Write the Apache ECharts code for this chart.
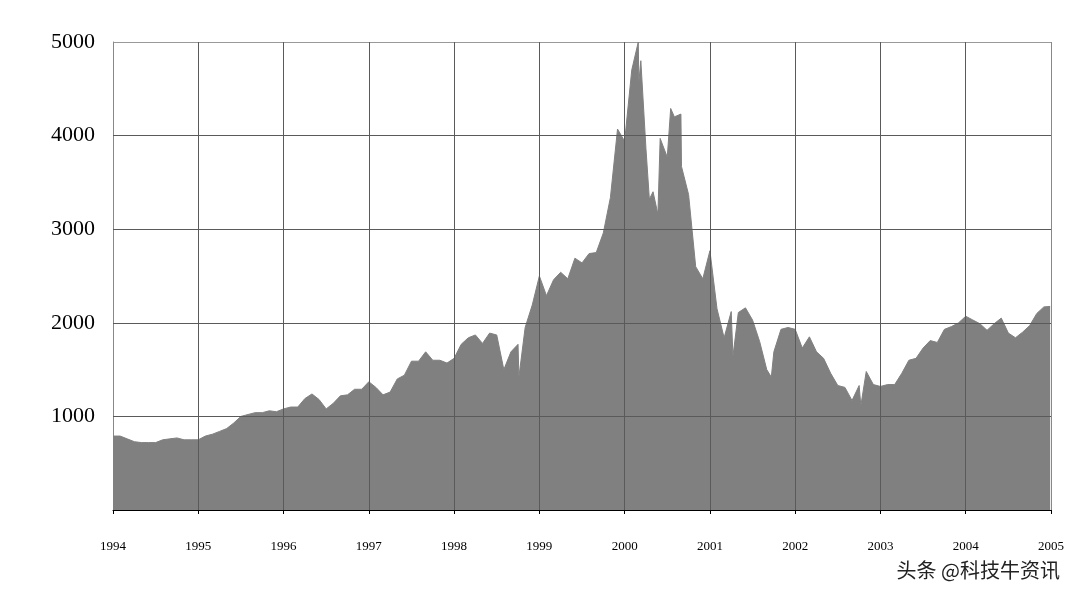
<!DOCTYPE html>
<html><head><meta charset="utf-8">
<script src="https://cdn.jsdelivr.net/npm/echarts@6/dist/echarts.min.js"></script>
<style>html,body{margin:0;background:#fff}#c{width:1080px;height:605px}</style>
</head><body><div id="c"></div>
<script>
const startYear = 1994;
const monthly = [
 [790,790,760,730,720,720,720,750,760,770,750,750],
 [750,790,810,840,870,930,1000,1020,1040,1040,1060,1050],
 [1080,1100,1100,1190,1240,1180,1080,1140,1220,1230,1290,1290],
 [1370,1310,1230,1260,1400,1440,1590,1590,1690,1600,1600,1570],
 [1620,1770,1840,1870,1780,1890,1870,1500,1690,1770,1950,2190],
 [2500,2290,2460,2540,2470,2690,2640,2740,2750,2960,3340,4070],
 [3940,4700,4570,3860,3400,3970,3770,4200,3670,3370,2600,2470],
 [2770,2150,1840,2120,2110,2160,2030,1800,1500,1690,1930,1950],
 [1930,1730,1850,1690,1620,1460,1330,1310,1170,1330,1480,1340],
 [1320,1340,1340,1460,1600,1620,1730,1810,1790,1930,1960,2000],
 [2070,2030,1990,1920,1990,2050,1890,1840,1900,1970,2100,2170]
];
const eventX = [1998.76,2000.16,2000.19,2000.29,2000.39,2000.54,2000.66,2001.27,2001.72,2002.77,2004.99];
const eventY = [1420,5000,4800,3320,3160,4290,4230,1640,1420,1114,2175];
const yTicks = [1000,2000,3000,4000,5000];
const years = [1995,1996,1997,1998,1999,2000,2001,2002,2003,2004];

const pts = [];
monthly.forEach((row,yi)=>row.forEach((v,m)=>pts.push([startYear+yi+m/12,v])));
eventX.forEach((x,i)=>pts.push([x,eventY[i]]));
pts.sort((a,b)=>a[0]-b[0]);

const gridMarks = yTicks.slice(0,4).map(v=>({yAxis:v})).concat(years.map(y=>({xAxis:y})));

const chart = echarts.init(document.getElementById('c'));
chart.setOption({
 animation:false,
 grid:{left:113,right:29,top:42,bottom:95},
 xAxis:{type:'value',min:1994,max:2005,interval:1,
  axisLine:{lineStyle:{color:'#000'}},axisTick:{show:true,length:4,lineStyle:{color:'#000'}},
  axisLabel:{color:'#000',fontFamily:'Liberation Serif',fontSize:13,margin:30,formatter:v=>String(v)},
  splitLine:{show:true,lineStyle:{color:'#888',width:1}}},
 yAxis:{type:'value',min:0,max:5000,interval:1000,
  axisLine:{show:true,lineStyle:{color:'#888'}},axisTick:{show:false},
  axisLabel:{color:'#000',fontFamily:'Liberation Serif',fontSize:22,margin:18,
   formatter:v=>yTicks.includes(v)?String(v):''},
  splitLine:{show:true,lineStyle:{color:'#999',width:1}}},
 series:[{type:'line',data:pts,symbol:'none',z:1,
  lineStyle:{color:'#808080',width:1},areaStyle:{color:'#808080',opacity:1},
  markLine:{silent:true,symbol:'none',label:{show:false},animation:false,
   lineStyle:{color:'#5a5a5a',type:'solid',width:1},data:gridMarks}}],
 graphic:[{type:'text',right:20,top:560,style:{text:'头条 @科技牛资讯',fill:'#222',
  font:'20px "Noto Sans CJK SC"'}}]
});
</script></body></html>
